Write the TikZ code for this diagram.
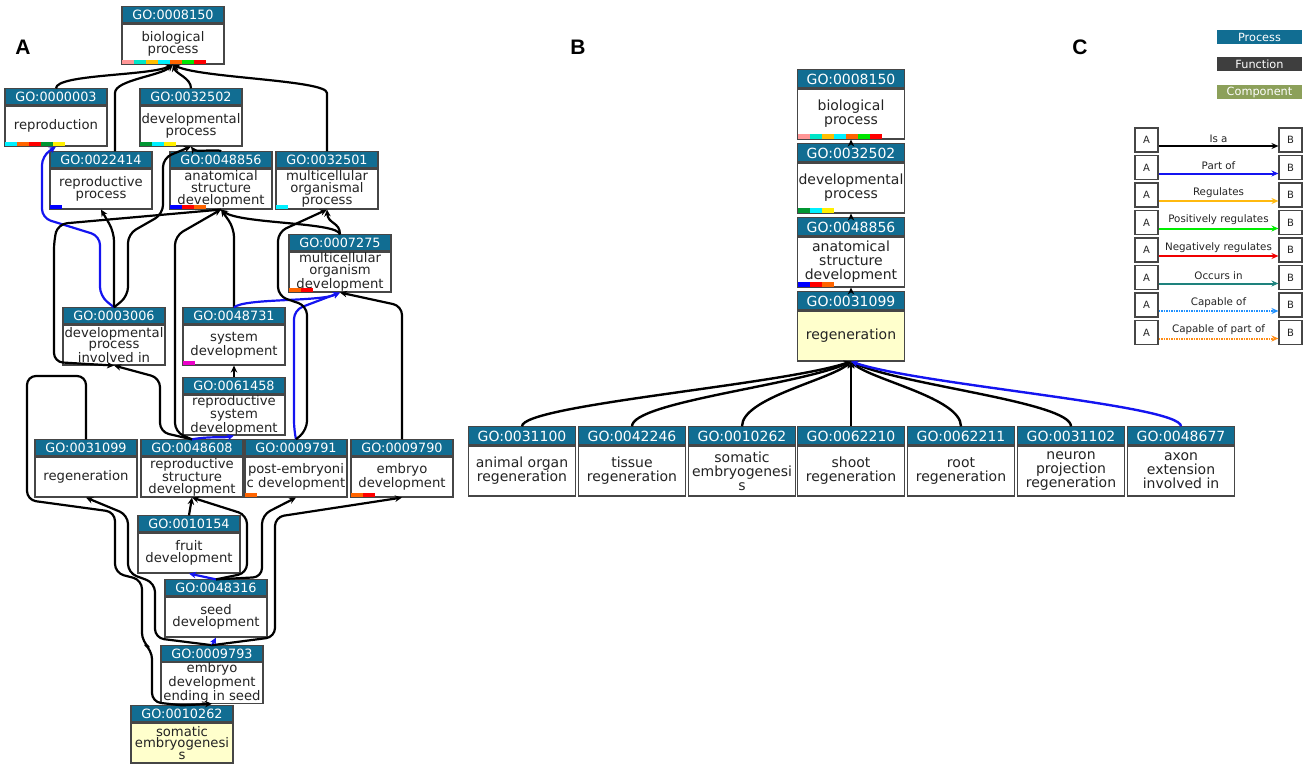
\documentclass[tikz,border=0pt]{standalone}
\usepackage{fontspec}
\setmainfont{DejaVu Sans}
\newfontfamily\panelfont{Liberation Sans}
\usetikzlibrary{arrows.meta}

\definecolor{gohead}{RGB}{17,109,146}
\definecolor{funcgray}{RGB}{62,62,62}
\definecolor{compgreen}{RGB}{140,160,90}
\definecolor{boxline}{RGB}{70,70,70}
\definecolor{textgray}{RGB}{35,35,35}
\definecolor{seedyellow}{RGB}{255,255,204}
\definecolor{partblue}{RGB}{20,20,240}
\definecolor{reggold}{RGB}{255,185,15}
\definecolor{posgreen}{RGB}{0,238,0}
\definecolor{negred}{RGB}{240,0,0}
\definecolor{occteal}{RGB}{30,130,125}
\definecolor{capblue}{RGB}{30,144,255}
\definecolor{caporange}{RGB}{255,140,20}
% annotation bar colours
\definecolor{cpink}{RGB}{255,150,150}
\definecolor{cturq}{RGB}{0,230,200}
\definecolor{cgold}{RGB}{255,190,0}
\definecolor{ccyan}{RGB}{0,240,255}
\definecolor{corange}{RGB}{255,100,0}
\definecolor{cgreen}{RGB}{0,230,0}
\definecolor{cred}{RGB}{255,0,0}
\definecolor{cdkgreen}{RGB}{0,150,50}
\definecolor{cyellow}{RGB}{255,240,0}
\definecolor{cblue}{RGB}{0,0,255}
\definecolor{cmagenta}{RGB}{235,0,200}

\tikzset{
  termA/.style={draw=boxline, line width=1.1pt, inner sep=0pt, minimum width=102pt,
    minimum height=40pt, text=textgray, font=\fontsize{13.2}{11.8}\selectfont},
  headA/.style={draw=boxline, line width=1.1pt, fill=gohead, anchor=south, inner sep=0pt,
    minimum width=102pt, minimum height=16pt, text=white, font=\fontsize{12.8}{13}\selectfont},
  termB/.style={termA, minimum width=107pt, minimum height=50pt, font=\fontsize{14}{14}\selectfont},
  headB/.style={headA, minimum width=107pt, minimum height=18pt, font=\fontsize{14}{14}\selectfont},
  isa/.style={draw=black, line width=2.2pt, rounded corners=9pt, -{Stealth[length=7pt, width=6.5pt]}},
  partof/.style={isa, draw=partblue},
  isaB/.style={isa, line width=2.4pt},
  partofB/.style={isaB, draw=partblue},
  legbox/.style={draw=boxline, line width=1.1pt, minimum width=23pt, minimum height=24pt,
    inner sep=0pt, text=textgray, font=\fontsize{10}{11}\selectfont},
  legarrow/.style={line width=2pt, -{Stealth[length=7pt, width=6pt]}},
  legtext/.style={font=\fontsize{10.3}{11}\selectfont, text=textgray, above=2.5pt, inner sep=0pt},
  aspect/.style={minimum width=85pt, minimum height=14pt, inner sep=0pt, text=white,
    font=\fontsize{11.3}{12}\selectfont},
  panel/.style={font=\panelfont\fontsize{21}{21}\selectfont\bfseries}
}

% term box: [fill] name, x, top, id, text
\newcommand{\goA}[6][white]{%
  \node[termA, fill=#1] (#2) at (#3, #4+36) {#6};
  \node[headA] (#2h) at (#2.north) {GO:#5};}
\newcommand{\goB}[6][white]{%
  \node[termB, fill=#1] (#2) at (#3, #4+43) {#6};
  \node[headB] (#2h) at (#2.north) {GO:#5};}
% coloured annotation bars along the bottom edge
\newcommand{\gobars}[3]{%
  \foreach \c [count=\i from 0] in {#3}
    {\fill[\c] ([xshift=\i*12pt+0.6pt, yshift=0.6pt]#1.south west) rectangle ++(12pt, #2);}}

\begin{document}
\begin{tikzpicture}[x=1pt, y=-1pt, every node/.style={align=center}]
  \useasboundingbox (0,0) rectangle (1311,764);

  \node[panel] (labA) at (23,47) {A};
  \node[panel] (labB) at (578,47) {B};
  \node[panel] (labC) at (1080,47) {C};

  % panel A
  \goA{a8150}{173}{8}{0008150}{biological\\process}
  \goA{a0003}{56}{90}{0000003}{reproduction}
  \goA{a2502}{191}{90}{0032502}{developmental\\process}
  \goA{a2414}{101}{153}{0022414}{reproductive\\process}
  \goA{a8856}{221}{153}{0048856}{anatomical\\structure\\development}
  \goA{a2501}{327}{153}{0032501}{multicellular\\organismal\\process}
  \goA{a7275}{340}{236}{0007275}{multicellular\\organism\\development}
  \goA{a3006}{114}{309}{0003006}{developmental\\process\\involved in}
  \goA{a8731}{234}{309}{0048731}{system\\development}
  \goA{a1458}{234}{379}{0061458}{reproductive\\system\\development}
  \goA{a1099}{86}{441}{0031099}{regeneration}
  \goA{a8608}{192}{441}{0048608}{reproductive\\structure\\development}
  \goA{a9791}{296}{441}{0009791}{post-embryoni\\c development}
  \goA{a9790}{402}{441}{0009790}{embryo\\development}
  \goA{a0154}{189}{517}{0010154}{fruit\\development}
  \goA{a8316}{216}{581}{0048316}{seed\\development}
  \goA{a9793}{212}{647}{0009793}{embryo\\development\\ending in seed}
  \goA[seedyellow]{a0262}{182}{707}{0010262}{somatic\\embryogenesi\\s}

  \gobars{a8150}{4pt}{cpink,cturq,cgold,ccyan,corange,cgreen,cred}
  \gobars{a0003}{4pt}{ccyan,corange,cred,cdkgreen,cyellow}
  \gobars{a2502}{4pt}{cdkgreen,ccyan,cyellow}
  \gobars{a2414}{4pt}{cblue}
  \gobars{a8856}{4pt}{cblue,cred,corange}
  \gobars{a2501}{4pt}{ccyan}
  \gobars{a7275}{4pt}{corange,cred}
  \gobars{a8731}{4pt}{cmagenta}
  \gobars{a9791}{4pt}{corange}
  \gobars{a9790}{4pt}{corange,cred}

  \draw[isa] (a0003h.north) .. controls (56,74) and (150,76) .. (a8150.south);
  \draw[isa] ([xshift=14pt]a2414h.north) -- (115,102) .. controls (115,80) and (160,76) .. (a8150.south);
  \draw[isa] (a2502h.north) .. controls (191,78) and (176,74) .. (a8150.south);
  \draw[isa] (a2501h.north) -- (327,102) .. controls (327,80) and (200,78) .. (a8150.south);
  \draw[partof] (a3006h.north) -- (100,296) -- (100,236) -- (42,218) -- (42,156) -- (a0003.south);
  \draw[isa] (a3006h.north) -- (114,232) -- (a2414.south);
  \draw[isa] (a3006h.north) -- (128,296) -- (128,234) -- (163,214) -- (163,158) -- (a2502.south);
  \draw[isa] (a8856h.north) .. controls (221,149) and (195,152) .. (a2502.south);
  \draw[isa] (a7275h.north) .. controls (340,222) and (328,224) .. (a2501.south);
  \draw[isa] (a7275h.north) .. controls (338,222) and (240,224) .. (a8856.south);
  \draw[isa] (a8731h.north) -- (234,228) -- (a8856.south);
  \draw[partof] (a8731h.north) .. controls (245,298) and (320,302) .. (a7275.south);
  \draw[isa] (a1458h.north) -- (a8731.south);
  \draw[partof] (a8608h.north) .. controls (210,436) and (225,438) .. (a1458.south);
  \draw[isa] (a8608h.north) -- (175,432) -- (175,236) -- (a8856.south);
  \draw[isa] (a8608h.north) -- (160,432) -- (160,378) -- (a3006.south);
  \draw[partof] (a9791h.north) -- (294,430) -- (294,310) -- (a7275.south);
  \draw[isa] (a9791h.north) -- (307,430) -- (307,306) -- (278,296) -- (278,232) -- (a2501.south);
  \draw[isa] (a9790h.north) -- (402,306) -- (a7275.south);
  \draw[isa] (a8856.south) -- (58,224) -- (54,240) -- (54,362) -- (a3006.south);
  \draw[isa, -] (a1099h.north) -- (86,376) -- (27,376) -- (27,500) -- (115,512) -- (115,573)
    -- (142,580) -- (142,642) -- (152,650) -- (152,702) -- (a0262h.north);
  \draw[isa] (a9793h.north) -- (155,638) -- (155,583) -- (128,573) -- (128,515) -- (a1099.south);
  \draw[partof] (a9793h.north) -- (a8316.south);
  \draw[isa] (a9793h.north) -- (275,637) -- (275,517) -- (a9790.south);
  \draw[isa] (a0262h.north) -- (a9793.south);
  \draw[partof] (a8316h.north) -- (a0154.south);
  \draw[isa] (a8316h.north) -- (247,573) -- (247,515) -- (a8608.south);
  \draw[isa] (a8316h.north) -- (262,577) -- (262,515) -- (a9791.south);
  \draw[isa] (a0154h.north) -- (a8608.south);

  % panel B
  \goB{b8150}{851}{71}{0008150}{biological\\process}
  \goB{b2502}{851}{145}{0032502}{developmental\\process}
  \goB{b8856}{851}{219}{0048856}{anatomical\\structure\\development}
  \goB[seedyellow]{b1099}{851}{293}{0031099}{regeneration}
  \goB{b1100}{522}{428}{0031100}{animal organ\\regeneration}
  \goB{b2246}{632}{428}{0042246}{tissue\\regeneration}
  \goB{b0262}{742}{428}{0010262}{somatic\\embryogenesi\\s}
  \goB{b2210}{851}{428}{0062210}{shoot\\regeneration}
  \goB{b2211}{961}{428}{0062211}{root\\regeneration}
  \goB{b1102}{1071}{428}{0031102}{neuron\\projection\\regeneration}
  \goB{b8677}{1181}{428}{0048677}{axon\\extension\\involved in}

  \gobars{b8150}{5pt}{cpink,cturq,cgold,ccyan,corange,cgreen,cred}
  \gobars{b2502}{5pt}{cdkgreen,ccyan,cyellow}
  \gobars{b8856}{5pt}{cblue,cred,corange}

  \draw[isaB] (b2502h.north) -- (b8150.south);
  \draw[isaB] (b8856h.north) -- (b2502.south);
  \draw[isaB] (b1099h.north) -- (b8856.south);
  \draw[isaB] (b1100h.north) .. controls (522,405) and (780,385) .. (b1099.south);
  \draw[isaB] (b2246h.north) .. controls (632,402) and (800,385) .. (b1099.south);
  \draw[isaB] (b0262h.north) .. controls (742,398) and (830,380) .. (b1099.south);
  \draw[isaB] (b2210h.north) -- (b1099.south);
  \draw[isaB] (b2211h.north) .. controls (961,398) and (872,380) .. (b1099.south);
  \draw[isaB] (b1102h.north) .. controls (1071,402) and (900,385) .. (b1099.south);
  \draw[partofB] (b8677h.north) .. controls (1181,405) and (920,385) .. (b1099.south);

  % panel C
  \node[aspect, fill=gohead] (proc) at (1259.5,37) {Process};
  \node[aspect, fill=funcgray] (func) at (1259.5,64) {Function};
  \node[aspect, fill=compgreen] (comp) at (1259.5,92) {Component};

  \foreach \lab/\col [count=\i from 0] in {Is a/black, Part of/partblue, Regulates/reggold,
      Positively regulates/posgreen, Negatively regulates/negred, Occurs in/occteal} {
    \node[legbox] (la\i) at (1146.5, 140+27.5*\i) {A};
    \node[legbox] (lb\i) at (1290.5, 140+27.5*\i) {B};
    \draw[legarrow, \col] ([yshift=-6pt]la\i.east) -- ([yshift=-6pt]lb\i.west)
      node[legtext, midway] {\lab};
  }
  \foreach \lab/\col [count=\i from 6] in {Capable of/capblue, Capable of part of/caporange} {
    \node[legbox] (la\i) at (1146.5, 140+27.5*\i) {A};
    \node[legbox] (lb\i) at (1290.5, 140+27.5*\i) {B};
    \draw[legarrow, \col, dash pattern=on 1.5pt off 1pt] ([yshift=-6pt]la\i.east) -- ([yshift=-6pt]lb\i.west)
      node[legtext, midway] {\lab};
  }
\end{tikzpicture}
\end{document}
